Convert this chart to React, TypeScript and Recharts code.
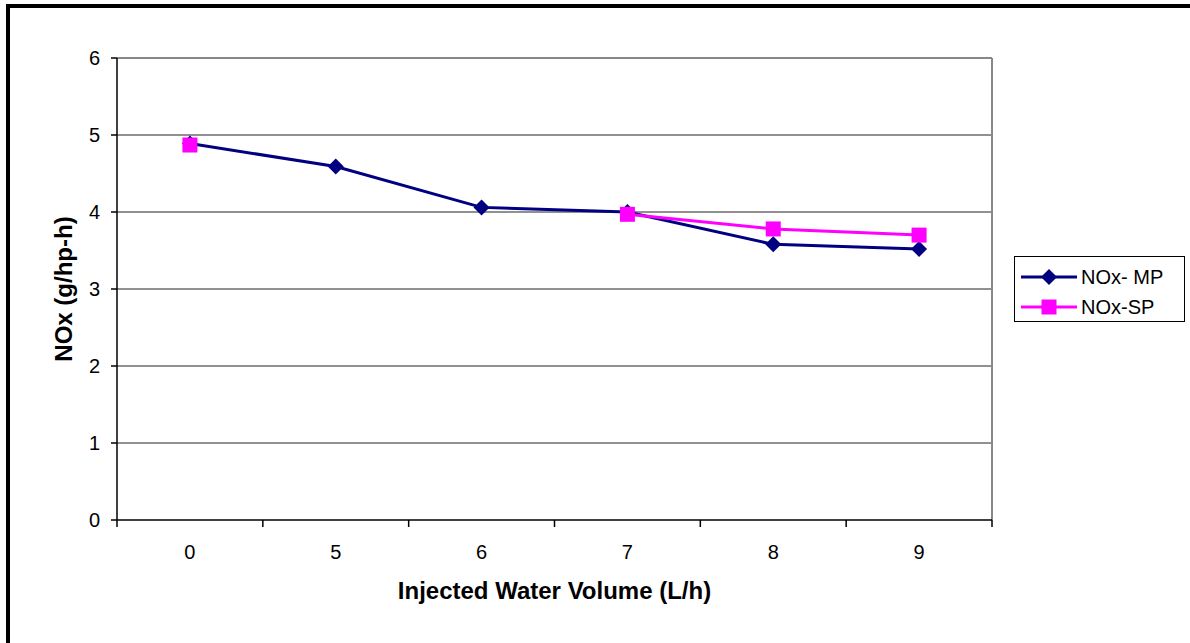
import React from "react";
import {
  LineChart,
  Line,
  XAxis,
  YAxis,
  CartesianGrid,
  Legend,
} from "recharts";

// values
const categories = ["0", "5", "6", "7", "8", "9"];
const mpValues = [4.89, 4.59, 4.06, 4.0, 3.58, 3.52];
const spValues: (number | null)[] = [4.87, null, null, 3.97, 3.78, 3.7];
const yTicks = [0, 1, 2, 3, 4, 5, 6];
const gridTicks = [1, 2, 3, 4, 5];

const MP_COLOR = "#000080";
const SP_COLOR = "#FF00FF";
const FONT = "'Liberation Sans', Arial, sans-serif";

const data = categories.map((water, i) => ({
  water,
  mp: mpValues[i],
  sp: spValues[i],
}));

const Diamond = (props: any) => {
  const { cx, cy } = props;
  if (cx == null || cy == null || props.value == null) return null;
  return (
    <path
      d={`M${cx},${cy - 8} L${cx + 8},${cy} L${cx},${cy + 8} L${cx - 8},${cy} Z`}
      fill={MP_COLOR}
    />
  );
};

const Square = (props: any) => {
  const { cx, cy } = props;
  if (cx == null || cy == null || props.value == null) return null;
  return <rect x={cx - 7.5} y={cy - 7.5} width={15} height={15} fill={SP_COLOR} />;
};

// category tick: label in the middle, tick marks on the band edges (Excel style)
const XTick = (props: any) => {
  const { x, y, payload, index } = props;
  const half = payload && payload.offset ? payload.offset : 875 / 12;
  return (
    <g>
      <line x1={x - half} y1={y} x2={x - half} y2={y + 7} stroke="#000" strokeWidth={1.5} />
      {index === categories.length - 1 && (
        <line x1={x + half} y1={y} x2={x + half} y2={y + 7} stroke="#000" strokeWidth={1.5} />
      )}
      <text x={x} y={y + 39} textAnchor="middle" fontSize={20} fontFamily={FONT} fill="#000">
        {payload.value}
      </text>
    </g>
  );
};

const LegendBox = () => (
  <div
    style={{
      width: 171,
      height: 66,
      border: "1px solid #000",
      background: "#fff",
      fontFamily: FONT,
      fontSize: 20,
      boxSizing: "border-box",
      paddingTop: 4,
    }}
  >
    {[
      { name: "NOx- MP", color: MP_COLOR, shape: "diamond" },
      { name: "NOx-SP", color: SP_COLOR, shape: "square" },
    ].map((item) => (
      <div key={item.name} style={{ display: "flex", alignItems: "center", height: 28, marginTop: 2 }}>
        <svg width={64} height={24} style={{ marginLeft: 6 }}>
          <line x1={0} y1={12} x2={56} y2={12} stroke={item.color} strokeWidth={3} />
          {item.shape === "diamond" ? (
            <path d="M28,4 L36,12 L28,20 L20,12 Z" fill={item.color} />
          ) : (
            <rect x={20.5} y={4.5} width={15} height={15} fill={item.color} />
          )}
        </svg>
        <span style={{ marginLeft: -4 }}>{item.name}</span>
      </div>
    ))}
  </div>
);

// right edge of the plot area, for the grey frame line
const rightEdge = ({ offset }: any) => [offset.left + offset.width];

export default function App() {
  return (
    <div
      style={{
        position: "absolute",
        left: 0,
        top: 0,
        width: 1190,
        height: 643,
        background: "#fff",
        overflow: "hidden",
      }}
    >
      <div
        style={{
          position: "absolute",
          left: 6,
          top: 4,
          right: 0,
          bottom: 0,
          borderLeft: "4px solid #000",
          borderTop: "4px solid #000",
        }}
      />
      <div style={{ position: "absolute", left: 0, top: 0 }}>
        <LineChart
          width={1190}
          height={643}
          data={data}
          margin={{ top: 58, right: 198, left: 57, bottom: 33 }}
        >
          <CartesianGrid
            vertical={false}
            horizontalValues={gridTicks}
            stroke="#222"
            strokeWidth={1}
          />
          <CartesianGrid
            horizontalValues={[6]}
            verticalCoordinatesGenerator={rightEdge}
            stroke="#888"
            strokeWidth={2}
          />
          <XAxis
            dataKey="water"
            type="category"
            scale="band"
            height={90}
            axisLine={{ stroke: "#000", strokeWidth: 1.5 }}
            tickLine={false}
            tickSize={0}
            tickMargin={0}
            interval={0}
            tick={<XTick />}
            label={{
              value: "Injected Water Volume (L/h)",
              position: "insideBottom",
              offset: 11,
              style: { fontFamily: FONT, fontSize: 24, fontWeight: "bold", fill: "#000" },
            }}
          />
          <YAxis
            domain={[0, 6]}
            ticks={yTicks}
            interval={0}
            width={60}
            tickSize={6}
            tickMargin={11}
            axisLine={{ stroke: "#000", strokeWidth: 1.5 }}
            tickLine={{ stroke: "#000", strokeWidth: 1.5 }}
            tick={{ fontFamily: FONT, fontSize: 20, fill: "#000" }}
            label={{
              value: "NOx (g/hp-h)",
              angle: -90,
              position: "insideLeft",
              offset: 6,
              style: {
                textAnchor: "middle",
                fontFamily: FONT,
                fontSize: 24,
                fontWeight: "bold",
                fill: "#000",
              },
            }}
          />
          <Legend
            layout="horizontal"
            align="center"
            verticalAlign="middle"
            content={<LegendBox />}
            wrapperStyle={{ left: 1014, top: 256, width: 171, height: 66 }}
          />
          <Line
            type="linear"
            dataKey="mp"
            name="NOx- MP"
            stroke={MP_COLOR}
            strokeWidth={3}
            dot={<Diamond />}
            activeDot={false}
            isAnimationActive={false}
          />
          <Line
            type="linear"
            dataKey="sp"
            name="NOx-SP"
            stroke={SP_COLOR}
            strokeWidth={3}
            dot={<Square />}
            activeDot={false}
            connectNulls={false}
            isAnimationActive={false}
          />
        </LineChart>
      </div>
    </div>
  );
}
